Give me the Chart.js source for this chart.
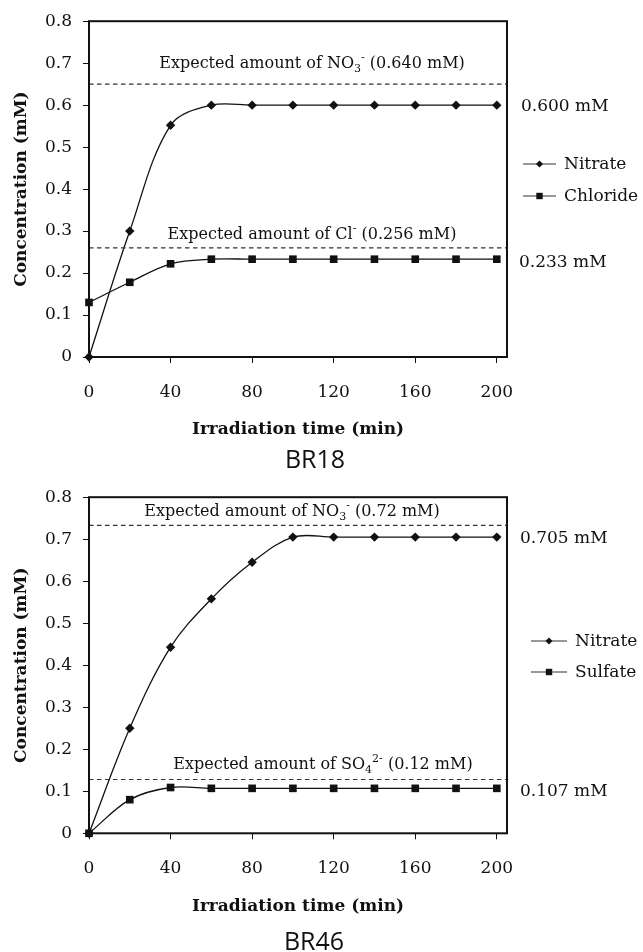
<!DOCTYPE html>
<html><head><meta charset="utf-8">
<script src="https://cdn.jsdelivr.net/npm/chart.js@4/dist/chart.umd.min.js"></script>
<style>body{margin:0;background:#fff;} canvas{display:block;}</style>
</head><body>
<canvas id="c1" width="643" height="476"></canvas>
<canvas id="c2" width="643" height="476"></canvas>
<script>
// ---- data ----
const timeMin = [0, 20, 40, 60, 80, 100, 120, 140, 160, 180, 200];
const br18Nitrate  = [0, 0.300, 0.552, 0.600, 0.600, 0.600, 0.600, 0.600, 0.600, 0.600, 0.600];
const br18Chloride = [0.130, 0.178, 0.222, 0.233, 0.233, 0.233, 0.233, 0.233, 0.233, 0.233, 0.233];
const br46Nitrate  = [0, 0.250, 0.443, 0.558, 0.645, 0.705, 0.705, 0.705, 0.705, 0.705, 0.705];
const br46Sulfate  = [0, 0.080, 0.109, 0.107, 0.107, 0.107, 0.107, 0.107, 0.107, 0.107, 0.107];
const yTickLabels = ['0', '0.1', '0.2', '0.3', '0.4', '0.5', '0.6', '0.7', '0.8'];
const xTickValues = [0, 40, 80, 120, 160, 200];
const br18ExpectedLevels = [0.65, 0.26];   // drawn positions of dashed lines
const br46ExpectedLevels = [0.733, 0.128];
const br18FinalLabels = ['0.600 mM', '0.233 mM'];
const br46FinalLabels = ['0.705 mM', '0.107 mM'];

const SERIF = '"DejaVu Serif", serif';

function richText(ctx, parts, cx, cy, size) {
  const fonts = { n: size + 'px ' + SERIF, s: Math.round(size * 0.68) + 'px ' + SERIF };
  let w = 0;
  parts.forEach(p => { ctx.font = p.k === 'n' ? fonts.n : fonts.s; p.w = ctx.measureText(p.t).width; w += p.w; });
  let x = cx - w / 2;
  const base = cy + size * 0.36;
  ctx.textAlign = 'left'; ctx.textBaseline = 'alphabetic'; ctx.fillStyle = '#111';
  parts.forEach(p => {
    ctx.font = p.k === 'n' ? fonts.n : fonts.s;
    let y = base;
    if (p.k === 'sub') y = base + size * 0.25;
    if (p.k === 'sup') y = base - size * 0.45;
    ctx.fillText(p.t, x, y);
    x += p.w;
  });
}

function marker(ctx, style, x, y) {
  ctx.beginPath();
  if (style === 'rectRot') {
    const r = 3.5;
    ctx.moveTo(x, y - r); ctx.lineTo(x + r, y); ctx.lineTo(x, y + r); ctx.lineTo(x - r, y); ctx.closePath();
  } else {
    const h = 3.2;
    ctx.rect(x - h, y - h, 2 * h, 2 * h);
  }
  ctx.fill();
}

function makeChart(id, cfg) {
  const series = [
    { label: cfg.names[0], vals: cfg.s1, style: 'rectRot', radius: 4.7 },
    { label: cfg.names[1], vals: cfg.s2, style: 'rect', radius: 5.4 }
  ];
  const datasets = [];
  cfg.expected.forEach(v => {
    datasets.push({
      data: [{ x: 0, y: v }, { x: 205, y: v }],
      borderColor: '#333', borderWidth: 1.1, borderDash: [4.5, 3.5], pointRadius: 0, tension: 0, clip: false
    });
  });
  series.forEach(s => {
    datasets.push({
      label: s.label,
      data: timeMin.map((t, i) => ({ x: t, y: s.vals[i] })),
      borderColor: '#111', backgroundColor: '#111', borderWidth: 1.3,
      pointStyle: s.style, pointRadius: s.radius, pointBorderWidth: 0,
      pointBackgroundColor: '#111', tension: 0.35, clip: false
    });
  });

  const overlay = {
    id: 'overlay',
    afterDraw(chart) {
      const ctx = chart.ctx, a = chart.chartArea, ys = chart.scales.y;
      ctx.save();
      // frame
      ctx.strokeStyle = '#111'; ctx.lineWidth = 2;
      ctx.strokeRect(a.left, a.top, a.right - a.left, a.bottom - a.top);
      // annotations
      cfg.annots.forEach(an => richText(ctx, an.parts, an.x, an.y, 16));
      // final value labels
      ctx.font = '17px ' + SERIF; ctx.fillStyle = '#111'; ctx.textAlign = 'left'; ctx.textBaseline = 'middle';
      cfg.finals.forEach((f, i) => {
        ctx.fillText(f, cfg.finalX[i], ys.getPixelForValue(cfg.finalVals[i]) + cfg.finalDy[i]);
      });
      // legend
      series.forEach((s, i) => {
        const y = cfg.legY[i];
        ctx.strokeStyle = '#333'; ctx.lineWidth = 1.2;
        ctx.beginPath(); ctx.moveTo(cfg.legX[0], y); ctx.lineTo(cfg.legX[1], y); ctx.stroke();
        ctx.fillStyle = '#111';
        marker(ctx, s.style, (cfg.legX[0] + cfg.legX[1]) / 2, y);
        ctx.font = '17px ' + SERIF; ctx.textAlign = 'left'; ctx.textBaseline = 'middle';
        ctx.fillText(s.label, cfg.legX[1] + 8, y + 1);
      });
      // axis titles
      ctx.fillStyle = '#111';
      ctx.font = 'bold 17px ' + SERIF; ctx.textAlign = 'center'; ctx.textBaseline = 'middle';
      ctx.fillText('Irradiation time (min)', (a.left + a.right) / 2, cfg.xTitleY);
      ctx.save();
      ctx.translate(22, (a.top + a.bottom) / 2);
      ctx.rotate(-Math.PI / 2);
      ctx.fillText('Concentration (mM)', 0, 0);
      ctx.restore();
      // sample name
      ctx.font = '25px "Open Sans", sans-serif';
      ctx.fillText(cfg.name, cfg.nameX, cfg.nameY);
      ctx.restore();
    }
  };

  return new Chart(document.getElementById(id), {
    type: 'line',
    data: { datasets },
    options: {
      responsive: false, animation: false,
      layout: { padding: { left: 0, top: cfg.top, right: 136, bottom: 0 } },
      plugins: { legend: { display: false }, tooltip: { enabled: false } },
      scales: {
        x: {
          type: 'linear', min: 0, max: 205,
          afterBuildTicks: ax => { ax.ticks = xTickValues.map(v => ({ value: v })); },
          afterFit: sc => { sc.height = 476 - cfg.bottom; },
          ticks: { color: '#111', font: { family: SERIF, size: 17 }, padding: 19, maxRotation: 0 },
          grid: { display: true, drawOnChartArea: false, drawTicks: true, tickLength: 6, color: '#111' },
          border: { display: false }
        },
        y: {
          type: 'linear', min: 0, max: 0.8,
          ticks: { stepSize: 0.1, color: '#111', font: { family: SERIF, size: 17 }, padding: 11,
                   callback: (v, i) => yTickLabels[i] },
          afterFit: sc => { sc.width = 89; },
          grid: { display: true, drawOnChartArea: false, drawTicks: true, tickLength: 6, color: '#111' },
          border: { display: false }
        }
      }
    },
    plugins: [overlay]
  });
}

makeChart('c1', {
  names: ['Nitrate', 'Chloride'], s1: br18Nitrate, s2: br18Chloride,
  expected: br18ExpectedLevels, top: 18, bottom: 357,
  annots: [
    { x: 312, y: 62, parts: [{ t: 'Expected amount of NO', k: 'n' }, { t: '3', k: 'sub' }, { t: '-', k: 'sup' }, { t: ' (0.640 mM)', k: 'n' }] },
    { x: 312, y: 233, parts: [{ t: 'Expected amount of Cl', k: 'n' }, { t: '-', k: 'sup' }, { t: ' (0.256 mM)', k: 'n' }] }
  ],
  finals: br18FinalLabels, finalVals: [0.600, 0.233], finalX: [521, 519], finalDy: [1, 3],
  legX: [523, 556], legY: [164, 196],
  xTitleY: 430, name: 'BR18', nameX: 315, nameY: 461
});

makeChart('c2', {
  names: ['Nitrate', 'Sulfate'], s1: br46Nitrate, s2: br46Sulfate,
  expected: br46ExpectedLevels, top: 19.7, bottom: 357.3,
  annots: [
    { x: 292, y: 34, parts: [{ t: 'Expected amount of NO', k: 'n' }, { t: '3', k: 'sub' }, { t: '-', k: 'sup' }, { t: ' (0.72 mM)', k: 'n' }] },
    { x: 323, y: 287, parts: [{ t: 'Expected amount of SO', k: 'n' }, { t: '4', k: 'sub' }, { t: '2-', k: 'sup' }, { t: ' (0.12 mM)', k: 'n' }] }
  ],
  finals: br46FinalLabels, finalVals: [0.705, 0.107], finalX: [520, 520], finalDy: [1, 3],
  legX: [531, 567], legY: [165, 196],
  xTitleY: 430.7, name: 'BR46', nameX: 314, nameY: 467
});
</script>
</body></html>
